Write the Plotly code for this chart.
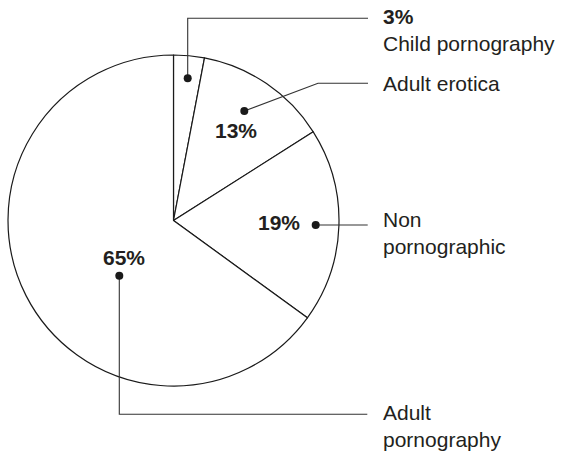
import plotly.graph_objects as go

# ---- data ----
categories = ["Child pornography", "Adult erotica", "Non pornographic", "Adult pornography"]
values = [3, 13, 19, 65]
pct_labels = ["3%", "13%", "19%", "65%"]
name_labels = ["<b>3%</b><br>Child pornography", "Adult erotica", "Non<br>pornographic", "Adult<br>pornography"]

# ---- layout config (pixel coordinates) ----
W, H = 564, 451
CX, CY, R = 173.5, 220.5, 165.5
FONT = "Liberation Sans, Arial, Helvetica, sans-serif"
TXT = "#231f20"
LINE = "#333333"
FS = 21

# dot positions, leader line waypoints, percent label centers, name label anchor
dots = [(187.7, 78.3), (244.3, 111.0), (315.7, 225.0), (119.3, 275.7)]
paths = [
    [(187.7, 78.3), (187.7, 18.3), (368, 18.3)],
    [(244.3, 111.0), (318, 83.3), (368, 83.3)],
    [(315.7, 225.0), (367.7, 225.0)],
    [(119.3, 275.7), (119.3, 414.3), (367.3, 414.3)],
]
pct_pos = [None, (235.8, 130.0), (278.7, 222.5), (124.3, 257.0)]
name_pos = [(381.0, 16.3), (381.0, 83.3), (381.0, 219.0), (381.0, 411.5)]

fig = go.Figure()
fig.add_trace(go.Pie(
    labels=categories, values=values, sort=False, direction="clockwise", rotation=0,
    textinfo="none", hoverinfo="label+percent",
    marker=dict(colors=["white"] * 4, line=dict(color="#1a1a1a", width=1.2)),
    domain=dict(x=[(CX - R) / W, (CX + R) / W], y=[(H - CY - R) / H, (H - CY + R) / H]),
    showlegend=False,
))
# invisible trace to create the pixel-coordinate axes
fig.add_trace(go.Scatter(x=[0, W], y=[0, H], mode="markers", marker=dict(opacity=0),
                         hoverinfo="skip", showlegend=False))

shapes = []
for p in paths:
    d = "M " + " L ".join(f"{q[0]},{q[1]}" for q in p)
    shapes.append(dict(type="path", path=d, xref="x", yref="y", layer="above",
                       line=dict(color=LINE, width=1.1)))
for (x, y) in dots:
    r = 4
    shapes.append(dict(type="circle", xref="x", yref="y", x0=x - r, x1=x + r, y0=y - r, y1=y + r,
                       layer="above", fillcolor="#1a1a1a", line=dict(width=0)))

anns = []
for i, pos in enumerate(pct_pos):
    if pos is None:
        continue
    anns.append(dict(x=pos[0], y=pos[1], xref="x", yref="y", text="<b>" + pct_labels[i] + "</b>",
                     showarrow=False, xanchor="center", yanchor="middle",
                     font=dict(size=FS, color=TXT, family=FONT)))
for i, pos in enumerate(name_pos):
    anns.append(dict(x=pos[0], y=pos[1] - 13, xref="x", yref="y", text=name_labels[i],
                     showarrow=False, xanchor="left", yanchor="top", align="left",
                     font=dict(size=FS, color=TXT, family=FONT)))

fig.update_layout(
    width=W, height=H, margin=dict(l=0, r=0, t=0, b=0),
    paper_bgcolor="white", plot_bgcolor="rgba(0,0,0,0)",
    xaxis=dict(range=[0, W], visible=False, fixedrange=True),
    yaxis=dict(range=[H, 0], visible=False, fixedrange=True),
    annotations=anns, shapes=shapes,
)
fig.write_html("out.html", config={"displayModeBar": False},
               post_script="document.body.style.margin='0';document.body.style.overflow='hidden';")
